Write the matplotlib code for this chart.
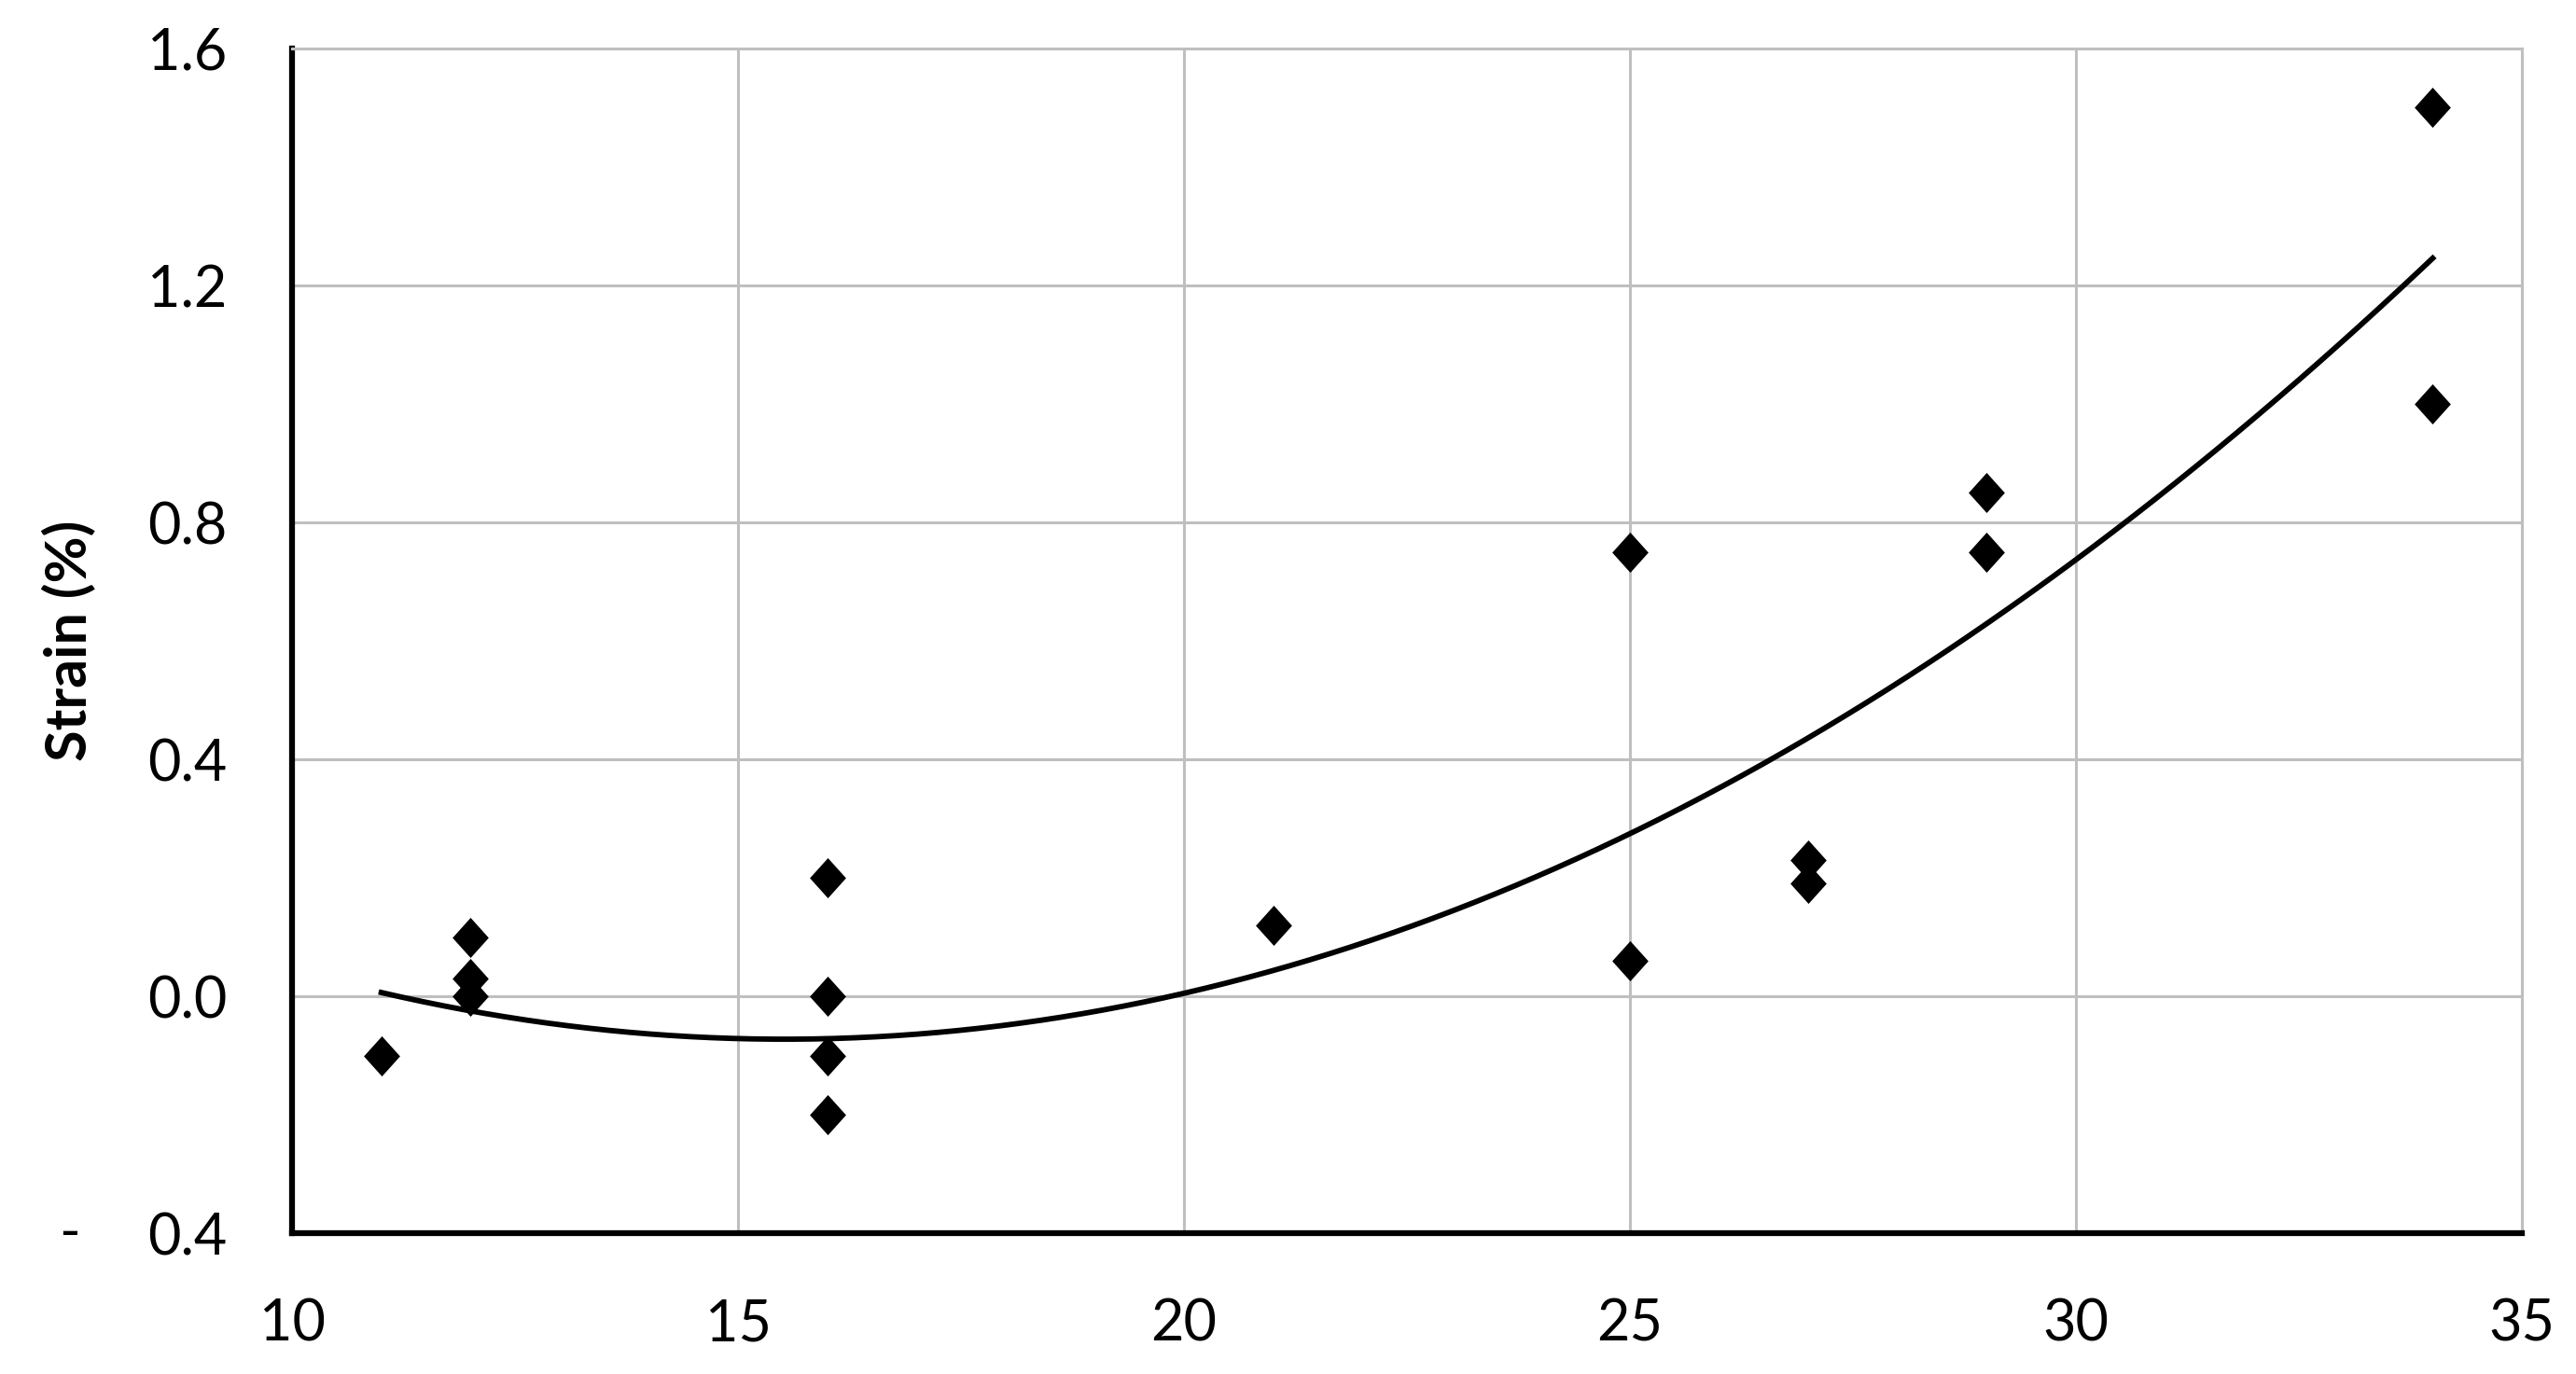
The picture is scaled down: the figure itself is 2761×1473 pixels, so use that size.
import numpy as np
import matplotlib.pyplot as plt
from matplotlib.path import Path
from matplotlib.transforms import blended_transform_factory

plt.rcParams.update({
    'font.family': ['Lato', 'DejaVu Sans'],
    'font.size': 44,
})

# measured points
temp = [11, 12, 12, 12, 16, 16, 16, 16, 21, 25, 25, 27, 27, 29, 29, 34, 34]
strain = [-0.10, 0.10, 0.03, 0.00, 0.20, 0.00, -0.10, -0.20,
          0.12, 0.75, 0.06, 0.23, 0.19, 0.85, 0.75, 1.50, 1.00]

# 2nd order trendline as drawn in the chart (a*x^2 + b*x + c), range of data
trend_coef = [0.00386, -0.1198, 0.857]

x_ticks = [10, 15, 20, 25, 30, 35]
y_ticks = [-0.4, 0.0, 0.4, 0.8, 1.2, 1.6]
y_tick_labels = ['0.4', '0.0', '0.4', '0.8', '1.2', '1.6']

GRID = '#BFBFBF'

# diamond marker, a touch taller than wide
diamond = Path([(0, 1), (0.9, 0), (0, -1), (-0.9, 0), (0, 1)],
               [Path.MOVETO, Path.LINETO, Path.LINETO, Path.LINETO, Path.CLOSEPOLY])

fig = plt.figure(figsize=(27.61, 14.73), dpi=100)
ax = fig.add_axes([0.1134, 0.1025, 0.979 - 0.1134, 0.9647 - 0.1025])

xs = np.linspace(min(temp), max(temp), 200)
ax.plot(xs, np.polyval(trend_coef, xs), color='black', lw=4.2, zorder=3)

ax.plot(temp, strain, linestyle='none', marker=diamond, markersize=31,
        color='black', markeredgewidth=0, zorder=4)

ax.set_xlim(10, 35)
ax.set_ylim(-0.4, 1.6)
ax.set_xticks(x_ticks)
ax.set_yticks(y_ticks)
ax.set_yticklabels(y_tick_labels)
ax.tick_params(length=0, pad=50)
ax.grid(True, color=GRID, lw=2.2)
ax.set_axisbelow(True)

for side in ['top', 'right']:
    ax.spines[side].set_color(GRID)
    ax.spines[side].set_linewidth(2.2)
for side in ['left', 'bottom']:
    ax.spines[side].set_color('black')
    ax.spines[side].set_linewidth(4.5)

# Excel accounting-style minus sign sits apart from the number
tr = blended_transform_factory(ax.transAxes, ax.transData)
ax.text(-0.100, -0.4, '-', transform=tr, ha='center', va='center', fontsize=44)

ax.set_ylabel('Strain (%)', fontweight='bold', fontsize=44)
ax.yaxis.set_label_coords(-0.088, 0.5)

fig.savefig('out.png', dpi=100)
